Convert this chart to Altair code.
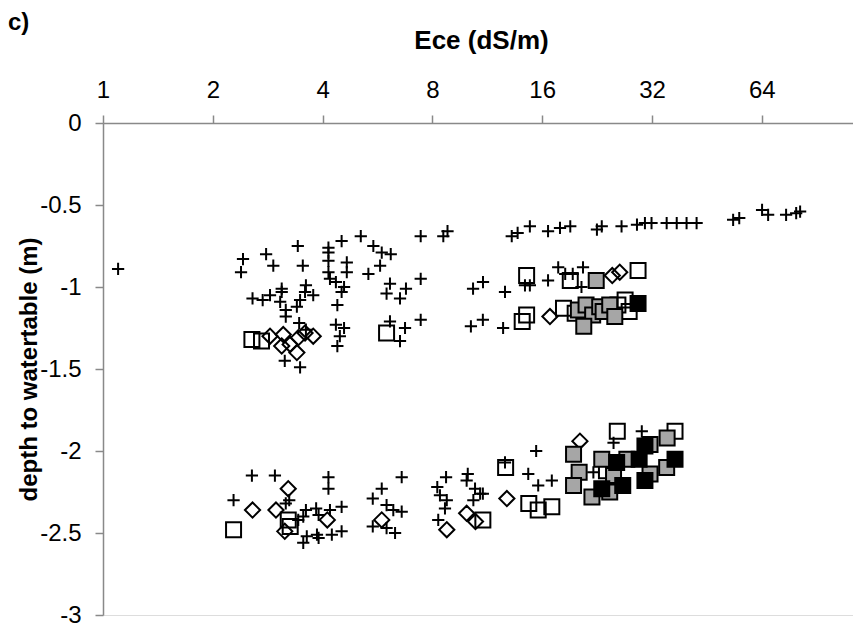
import altair as alt
import pandas as pd

# ---- data: Ece (dS/m) and depth to watertable (m) ----
plus_x = [1.10,
          2.42, 2.39, 2.80, 2.93, 3.42, 3.53, 4.15, 4.15, 4.15, 4.15, 4.19, 4.51, 4.66, 4.66, 4.35, 4.58, 4.51, 4.39,
          5.09, 5.51, 5.81, 6.15, 5.75, 5.34, 6.12, 5.99, 6.77, 6.52, 7.43, 7.43, 7.43, 8.57, 8.80,
          3.09, 3.09, 2.57, 2.74, 2.87, 3.06, 3.17, 3.17, 3.40, 3.47, 3.60, 3.58, 3.77, 3.45, 3.60, 3.15, 3.47,
          4.35, 4.58, 4.46, 4.39, 6.12, 6.73, 6.52,
          10.34, 11.01, 12.65, 14.35, 14.8, 16.6, 17.7, 18.5, 19.4, 20.7, 20.5, 10.2, 11.0, 12.5,
          13.2, 13.7, 14.8, 16.6, 17.9, 19.1, 22.6, 23.3, 26.4, 29.1, 30.6, 31.9, 35.1, 37.4, 39.8, 42.4,
          53.4, 55.5, 64.1, 66.6, 74.6, 79.5, 81.5,
          2.56, 2.96, 2.28, 3.24, 3.17, 3.43, 3.60, 3.54, 3.84, 3.90, 4.15, 4.15, 4.19, 4.51, 4.51, 4.24,
          3.86, 3.90, 3.54, 3.62, 5.81, 6.59, 5.49, 5.99, 6.25, 6.59, 5.49, 5.99, 6.32,
          8.72, 10.0, 9.93, 8.25, 8.39, 8.76, 8.66, 10.47, 10.81, 10.36, 8.30, 12.65, 15.4, 14.65, 15.6,
          17.0, 11.0, 30.0, 25.1, 22.1]
plus_y = [-0.89,
          -0.83, -0.91, -0.80, -0.87, -0.75, -0.87, -0.76, -0.79, -0.84, -0.91, -0.95, -0.72, -0.85, -0.91, -0.97, -1.00, -1.03, -1.11,
          -0.69, -0.75, -0.79, -0.80, -0.87, -0.92, -0.98, -1.04, -1.01, -1.07, -0.69, -0.95, -1.20, -0.69, -0.66,
          -1.01, -1.03, -1.07, -1.08, -1.05, -1.09, -1.14, -1.18, -1.12, -1.08, -0.99, -1.03, -1.05, -1.22, -1.26, -1.45, -1.49,
          -1.23, -1.25, -1.30, -1.36, -1.21, -1.25, -1.33,
          -1.01, -0.97, -1.03, -0.99, -0.99, -0.96, -0.88, -0.92, -0.92, -0.88, -1.00, -1.24, -1.20, -1.25,
          -0.69, -0.67, -0.63, -0.66, -0.64, -0.63, -0.65, -0.63, -0.63, -0.62, -0.61, -0.61, -0.61, -0.61, -0.61, -0.61,
          -0.59, -0.58, -0.53, -0.56, -0.56, -0.55, -0.54,
          -2.15, -2.15, -2.30, -2.30, -2.32, -2.42, -2.36, -2.40, -2.35, -2.39, -2.16, -2.23, -2.36, -2.34, -2.49, -2.51,
          -2.51, -2.53, -2.56, -2.52, -2.23, -2.16, -2.29, -2.33, -2.36, -2.37, -2.46, -2.47, -2.50,
          -2.16, -2.14, -2.18, -2.22, -2.27, -2.30, -2.35, -2.23, -2.26, -2.30, -2.42, -2.07, -2.00, -2.14, -2.21,
          -2.18, -2.26, -1.88, -1.95, -2.13]

diam_x = [2.87, 3.12, 3.09, 3.43, 3.26, 3.77, 3.40, 3.58, 16.8, 24.9, 26.1,
          2.57, 2.98, 3.22, 3.15, 4.12, 5.81, 9.93, 10.5, 8.76, 12.8, 20.3]
diam_y = [-1.30, -1.29, -1.36, -1.31, -1.35, -1.30, -1.40, -1.28, -1.18, -0.93, -0.91,
          -2.36, -2.36, -2.23, -2.49, -2.42, -2.42, -2.38, -2.43, -2.48, -2.29, -1.94]

osq_x = [2.56, 2.72, 5.99, 14.5, 29.3, 19.1, 14.5, 14.1, 18.3, 19.7, 27.0, 27.7, 25.8,
         2.28, 3.22, 3.26, 11.0, 12.7, 14.7, 15.6, 17.0, 25.7, 37.0, 24.0]
osq_y = [-1.32, -1.33, -1.28, -0.93, -0.90, -0.96, -1.17, -1.21, -1.13, -1.16, -1.08, -1.15, -1.11,
         -2.48, -2.42, -2.46, -2.42, -2.10, -2.32, -2.36, -2.34, -1.88, -1.88, -2.12]

gsq_x = [22.5, 20.1, 21.1, 22.0, 20.8, 23.0, 23.5, 24.5, 25.3,
         35.2, 19.5, 20.2, 19.5, 21.9, 23.3, 25.1, 24.5, 27.3, 31.6, 31.6, 35.1]
gsq_y = [-0.96, -1.14, -1.11, -1.17, -1.24, -1.12, -1.15, -1.11, -1.18,
         -1.92, -2.02, -2.13, -2.21, -2.28, -2.05, -2.15, -2.25, -2.05, -1.96, -2.14, -2.10]

bsq_x = [29.3, 23.3, 25.6, 26.6, 29.5, 30.6, 30.6, 37.0]
bsq_y = [-1.10, -2.23, -2.07, -2.21, -2.05, -1.97, -2.18, -2.05]

x_ticks = [1, 2, 4, 8, 16, 32, 64]
y_ticks = [0, -0.5, -1, -1.5, -2, -2.5, -3]

FONT = "Liberation Sans"
AXIS_GRAY = "#898989"

x_enc = alt.X("ece:Q",
              scale=alt.Scale(type="log", base=2, domain=[1, 113.8], nice=False),
              axis=alt.Axis(orient="top", values=x_ticks, format="d", grid=False,
                            title="Ece (dS/m)", titleFont=FONT, titleFontSize=26,
                            titleFontWeight="bold", titleColor="black",
                            titleBaseline="alphabetic", titleX=378, titleY=-75,
                            labelFont=FONT, labelFontSize=24, labelColor="black",
                            labelBaseline="alphabetic", labelPadding=18,
                            domainColor=AXIS_GRAY, domainWidth=1.5,
                            tickColor=AXIS_GRAY, tickWidth=1.5, tickSize=8,
                            labelFlush=False, labelOverlap=False))
y_enc = alt.Y("depth:Q",
              scale=alt.Scale(domain=[-3, 0], nice=False),
              axis=alt.Axis(orient="left", values=y_ticks, grid=False,
                            labelExpr="datum.value == 0 ? '0' : '-' + format(abs(datum.value), '')",
                            title="depth to watertable (m)", titleFont=FONT,
                            titleFontSize=24, titleFontWeight="bold", titleColor="black",
                            titleBaseline="middle", titleX=-74, titleY=246,
                            labelFont=FONT, labelFontSize=24, labelColor="black",
                            labelPadding=14, labelFlush=False, labelOverlap=False,
                            domainColor=AXIS_GRAY, domainWidth=1.5,
                            tickColor=AXIS_GRAY, tickWidth=1.5, tickSize=8))


def df(xs, ys):
    return pd.DataFrame({"ece": xs, "depth": ys})


PLUS = "M-1,0L1,0M0,-1L0,1"

plus = alt.Chart(df(plus_x, plus_y)).mark_point(
    shape=PLUS, filled=False, stroke="black", strokeWidth=2, size=150, opacity=1
).encode(x=x_enc, y=y_enc)

diam = alt.Chart(df(diam_x, diam_y)).mark_point(
    shape="diamond", filled=False, stroke="black", strokeWidth=2, size=230, opacity=1
).encode(x=x_enc, y=y_enc)

osq = alt.Chart(df(osq_x, osq_y)).mark_point(
    shape="square", filled=False, stroke="black", strokeWidth=2, size=225, opacity=1
).encode(x=x_enc, y=y_enc)

gsq = alt.Chart(df(gsq_x, gsq_y)).mark_point(
    shape="square", filled=True, fill="#A6A6A6", stroke="black", strokeWidth=2, size=225, opacity=1
).encode(x=x_enc, y=y_enc)

bsq = alt.Chart(df(bsq_x, bsq_y)).mark_point(
    shape="square", filled=True, fill="black", stroke="black", strokeWidth=2, size=225, opacity=1
).encode(x=x_enc, y=y_enc)

label = alt.Chart(pd.DataFrame({"t": ["c)"]})).mark_text(
    font=FONT, fontSize=24, fontWeight="bold", align="left", baseline="alphabetic", color="black"
).encode(text="t:N", x=alt.value(-95), y=alt.value(-93))

chart = alt.layer(plus, diam, osq, gsq, bsq, label).properties(
    width=750, height=492,
    autosize=alt.AutoSizeParams(type="none"),
    padding={"left": 95, "top": 115, "right": 0, "bottom": 18},
).configure_view(stroke=None).configure(background="white")

chart.save("out.html", embed_options={"renderer": "svg", "actions": False})
